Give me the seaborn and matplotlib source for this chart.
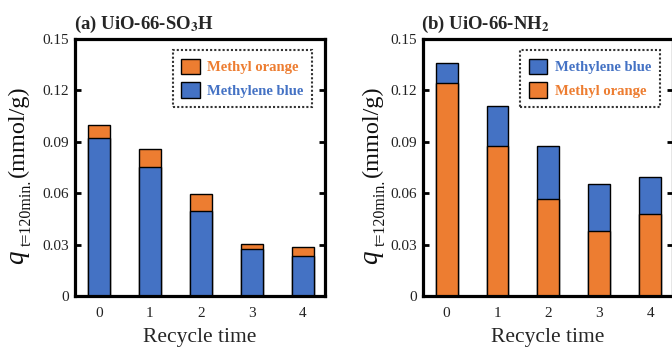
import matplotlib
matplotlib.use("Agg")
import matplotlib.pyplot as plt
from matplotlib.patches import Patch
import numpy as np
import pandas as pd
import seaborn as sns

sns.set_theme(style="white")
plt.rcParams["font.family"] = ["Liberation Serif", "DejaVu Serif"]
plt.rcParams["mathtext.fontset"] = "stix"

BLUE = "#4472C4"
ORANGE = "#ED7D31"

cycles = ["0", "1", "2", "3", "4"]

# (a) UiO-66-SO3H: methylene blue at the bottom, methyl orange on top
so3h_mb = [0.0922, 0.0753, 0.0494, 0.0276, 0.0232]
so3h_mo = [0.0074, 0.0103, 0.0101, 0.0029, 0.0052]

# (b) UiO-66-NH2: methyl orange at the bottom, methylene blue on top
nh2_mo = [0.1245, 0.0875, 0.0564, 0.0379, 0.0477]
nh2_mb = [0.0117, 0.0234, 0.0311, 0.0277, 0.0216]

yticks = [0, 0.03, 0.06, 0.09, 0.12, 0.15]
ytick_labels = ["0", "0.03", "0.06", "0.09", "0.12", "0.15"]

W, H = 672, 347
fig = plt.figure(figsize=(W / 100, H / 100), dpi=100)
ax_a = fig.add_axes([0.1116, 0.147, 0.372, 0.7406])
ax_b = fig.add_axes([0.629, 0.147, 0.372, 0.7406])


def stacked(ax, bottom_vals, top_vals, bottom_color, top_color):
    total = np.array(bottom_vals) + np.array(top_vals)
    df = pd.DataFrame({"cycle": cycles, "bottom": bottom_vals, "total": total})
    sns.barplot(data=df, x="cycle", y="total", color=top_color, saturation=1,
                width=0.43, edgecolor="black", linewidth=1.0, ax=ax)
    sns.barplot(data=df, x="cycle", y="bottom", color=bottom_color, saturation=1,
                width=0.43, edgecolor="black", linewidth=1.0, ax=ax)


def vtext(x_px, y_px, s, **kw):
    fig.text(x_px / W, 1 - y_px / H, s, rotation=90, rotation_mode="anchor",
             ha="left", va="baseline", color="#111111", **kw)


def ylabel(x_px):
    # large italic q, small subscript, then the unit
    vtext(x_px, 264, "q", fontsize=19.5, fontstyle="italic")
    vtext(x_px + 8, 246, "t=120min.", fontsize=11.5)
    vtext(x_px + 1, 177, "(mmol/g)", fontsize=17.5)


def style(ax, title, handles):
    ax.set_xlim(-0.47, 4.44)
    ax.set_ylim(0, 0.15)
    ax.set_yticks(yticks)
    ax.set_yticklabels(ytick_labels, fontsize=11)
    ax.tick_params(axis="y", direction="in", length=4, width=2, right=True,
                   left=True, pad=4, colors="black", labelcolor="#222222")
    ax.tick_params(axis="x", length=0, pad=8, labelsize=11, labelcolor="#222222")
    for sp in ax.spines.values():
        sp.set_visible(True)
        sp.set_linewidth(2.3)
        sp.set_color("black")
    ax.set_xlabel("Recycle time", fontsize=15.5, labelpad=6)
    ax.set_ylabel("")
    ax.set_title(title, loc="left", fontsize=13.5, fontweight="bold", pad=7, x=-0.005)
    leg = ax.legend(handles=handles, loc="upper right", bbox_to_anchor=(0.948, 0.957),
                    prop={"weight": "bold", "size": 10.5}, frameon=True, fancybox=False,
                    handlelength=1.25, handleheight=1.25, handletextpad=0.5,
                    borderpad=0.6, labelspacing=0.55, borderaxespad=0)
    frame = leg.get_frame()
    frame.set_edgecolor("black")
    frame.set_linestyle((0, (1, 1)))
    frame.set_linewidth(1.5)
    for txt, h in zip(leg.get_texts(), handles):
        txt.set_color(h.get_facecolor())


stacked(ax_a, so3h_mb, so3h_mo, BLUE, ORANGE)
style(ax_a, r"(a) UiO-66-SO$_\mathbf{3}$H",
      [Patch(facecolor=ORANGE, edgecolor="black", label="Methyl orange"),
       Patch(facecolor=BLUE, edgecolor="black", label="Methylene blue")])
ylabel(23)

stacked(ax_b, nh2_mo, nh2_mb, ORANGE, BLUE)
style(ax_b, r"(b) UiO-66-NH$_\mathbf{2}$",
      [Patch(facecolor=BLUE, edgecolor="black", label="Methylene blue"),
       Patch(facecolor=ORANGE, edgecolor="black", label="Methyl orange")])
ylabel(377)

fig.savefig("out.png", dpi=100)
